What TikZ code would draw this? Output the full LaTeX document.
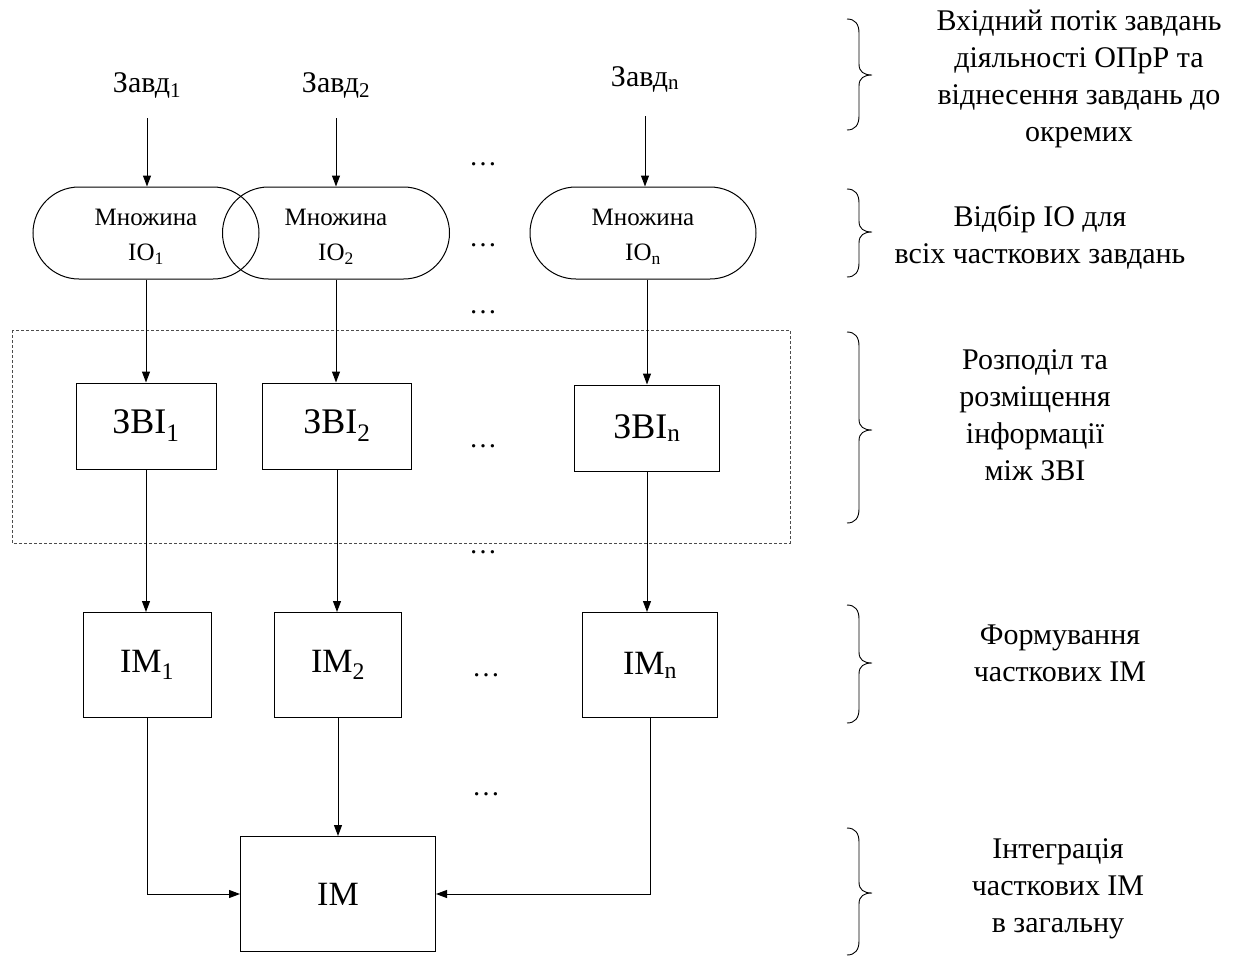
\documentclass[tikz,border=0pt]{standalone}
\usepackage{fontspec}
\setmainfont{Liberation Serif}
\usetikzlibrary{arrows.meta}
\begin{document}
\begin{tikzpicture}[x=1pt,y=-1pt,
  line width=1pt,
  arr/.style={-{Triangle[length=11pt,width=8pt]}},
  task/.style={font=\fontsize{30}{32}\selectfont, inner sep=0pt},
  setbox/.style={draw, rounded corners=46pt, minimum height=92pt, align=center,
                 font=\fontsize{25}{35}\selectfont, inner sep=0pt},
  settext/.style={align=center, font=\fontsize{25}{35}\selectfont, inner sep=0pt},
  blk/.style={draw, font=\fontsize{34}{40}\selectfont, inner sep=0pt},
  stage/.style={align=center, font=\fontsize{30}{37}\selectfont, inner sep=0pt},
  dotsl/.style={font=\fontsize{28}{30}\selectfont, inner sep=0pt, anchor=base},
  brc/.style={line width=0.9pt}
]
\useasboundingbox (0,0) rectangle (1235,959);

% incoming tasks
\node[task] (z1) at (147,85) {Завд\textsubscript{1}};
\node[task] (z2) at (336,85) {Завд\textsubscript{2}};
\node[task] (zn) at (645,79) {Завд\textsubscript{n}};

% sets of information objects (outlines)
\node[setbox, minimum width=226pt] (io1) at (146,233) {};
\node[setbox, minimum width=227pt] (io2) at (336,233) {};
\node[setbox, minimum width=226pt] (ion) at (643,233) {};
% their captions
\node[settext] (io1t) at (146,237) {Множина\\ІО\textsubscript{1}};
\node[settext] (io2t) at (336,237) {Множина\\ІО\textsubscript{2}};
\node[settext] (iont) at (643,237) {Множина\\ІО\textsubscript{n}};

% storage units
\node[blk, minimum width=140pt, minimum height=86pt, font=\fontsize{36}{40}\selectfont] (zbi1) at (146,426) {ЗВІ\textsubscript{1}};
\node[blk, minimum width=149pt, minimum height=86pt, font=\fontsize{36}{40}\selectfont] (zbi2) at (337,426) {ЗВІ\textsubscript{2}};
\node[blk, minimum width=145pt, minimum height=86pt, font=\fontsize{36}{40}\selectfont] (zbin) at (647,428) {ЗВІ\textsubscript{n}};

% partial information models
\node[blk, minimum width=128pt, minimum height=105pt] (im1) at (147,665) {ІМ\textsubscript{1}};
\node[blk, minimum width=127pt, minimum height=105pt] (im2) at (338,665) {ІМ\textsubscript{2}};
\node[blk, minimum width=135pt, minimum height=105pt] (imn) at (650,665) {ІМ\textsubscript{n}};

% integrated model
\node[blk, minimum width=195pt, minimum height=115pt] (im) at (338,894) {ІМ};

% dashed frame around the storage stage
\draw[line width=0.8pt, gray!60!black, dash pattern=on 3pt off 2pt] (12,330) rectangle (790,543);

% connectors
\draw[arr, shorten <=20pt] (z1.south) -- (z1.south |- io1.north);
\draw[arr, shorten <=20pt] (z2.south) -- (z2.south |- io2.north);
\draw[arr, shorten <=24pt] (zn.south) -- (zn.south |- ion.north);
\draw[arr] (io1.south) -- (io1.south |- zbi1.north);
\draw[arr] (io2.south) -- (io2.south |- zbi2.north);
\draw[arr] (zbin.north |- ion.south) -- (zbin.north);
\draw[arr] (zbi1.south) -- (zbi1.south |- im1.north);
\draw[arr] (zbi2.south) -- (zbi2.south |- im2.north);
\draw[arr] (zbin.south) -- (zbin.south |- imn.north);
\draw[arr] (im1.south) |- (im.west);
\draw[arr] (im2.south) -- (im.north);
\draw[arr] (imn.south) |- (im.east);

% ellipses between columns
\foreach \yy/\xx [count=\i] in {165/483, 246/483, 313/483, 447/483, 553/483, 676/486, 795/486}
  \node[dotsl] (dots\i) at (\xx,\yy) {…};

% stage descriptions
\node[stage] (s1) at (1079,79) {Вхідний потік завдань\\діяльності ОПрР та\\віднесення завдань до\\окремих};
\node[stage] (s2) at (1040,237) {Відбір ІО для\\всіх часткових завдань};
\node[stage] (s3) at (1035,415) {Розподіл та\\розміщення\\інформації\\між ЗВІ};
\node[stage] (s4) at (1060,653) {Формування\\часткових ІМ};
\node[stage] (s5) at (1058,889) {Інтеграція\\часткових ІМ\\в загальну};

% braces
\foreach \t/\m/\b in {19/75/130, 189/232/277, 332/430/523, 605/663/723, 828/893/955}
  \draw[brc] (847,\t) .. controls (855,\t) and (859,\t+5) .. (859,\t+14)
    -- (859,\m-11) .. controls (859,\m-3) and (864,\m) .. (872,\m)
    .. controls (864,\m) and (859,\m+3) .. (859,\m+11)
    -- (859,\b-14) .. controls (859,\b-5) and (855,\b) .. (847,\b);
\end{tikzpicture}
\end{document}
